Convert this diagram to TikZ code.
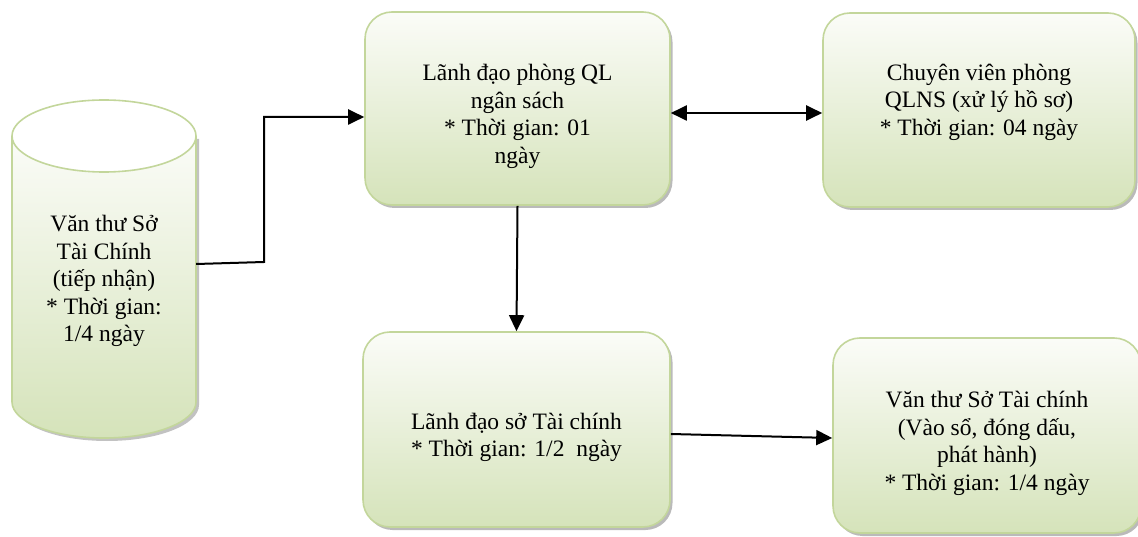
\documentclass[tikz,border=0pt]{standalone}
\usepackage{fontspec}
\setmainfont{Liberation Serif}
\usetikzlibrary{arrows.meta,shadows,calc}
\definecolor{edgegreen}{HTML}{C3D69B}
\definecolor{topfill}{HTML}{FBFCF8}
\definecolor{botfill}{HTML}{D5E3BA}
\begin{document}
\begin{tikzpicture}[x=1pt,y=1pt,
  txt/.style={font=\fontsize{23.5}{27.5}\selectfont, align=center},
  procbox/.style={draw=edgegreen, line width=1.6pt, rounded corners=27pt,
    top color=topfill, bottom color=botfill, inner sep=0pt,
    drop shadow={shadow xshift=2.5pt, shadow yshift=-3pt, fill=black!45, opacity=0.6}},
  boxtext/.style 2 args={label={[txt, yshift=#1]center:{#2}}},
  tip/.style={Triangle[length=16pt,width=15pt]},
  flow/.style={line width=2pt, -{Triangle[length=16pt,width=15pt]}},
  bothflow/.style={line width=2pt, {Triangle[length=16pt,width=15pt]}-{Triangle[length=16pt,width=15pt]}}]
\useasboundingbox (0,0) rectangle (1138,536);

% storage cylinder on the left
\fill[black!40, opacity=0.6] (15,397) -- (15,131) arc (180:360:92 and 36) -- (199,397) -- cycle;
\shade[top color=topfill, bottom color=botfill] (12,400) -- (12,134) arc (180:360:92 and 36) -- (196,400) -- cycle;
\draw[edgegreen, line width=1.6pt] (12,400) -- (12,134) arc (180:360:92 and 36) -- (196,400);
\draw[edgegreen, line width=1.6pt, fill=white] (104,400) ellipse (92 and 36);
\node[txt, minimum width=184pt] (cyl) at (104,255)
  {Văn thư Sở\\Tài Chính\\(tiếp nhận)\\* Thời gian:\\1/4 ngày};

% process boxes
\node[procbox, minimum width=305pt, minimum height=193pt,
  boxtext={-8pt}{Lãnh đạo phòng QL\\ngân sách\\* Thời gian: 01\\ngày}] (lead) at (517.5,427.5) {};
\node[procbox, minimum width=312pt, minimum height=194pt,
  boxtext={8pt}{Chuyên viên phòng\\QLNS (xử lý hồ sơ)\\* Thời gian: 04 ngày}] (staff) at (979,426) {};
\node[procbox, minimum width=307pt, minimum height=195pt,
  boxtext={-8pt}{Lãnh đạo sở Tài chính\\* Thời gian: 1/2~ ngày}] (dept) at (516.5,106.5) {};
\node[procbox, minimum width=308pt, minimum height=195pt,
  boxtext={-8pt}{Văn thư Sở Tài chính\\(Vào sổ, đóng dấu,\\phát hành)\\* Thời gian: 1/4 ngày}] (clerk) at (987,100.5) {};

% connectors
\coordinate (bend) at (264,274);
\draw[flow] ($(cyl.east)+(0,17)$) -- (bend) |- ($(lead.west)+(0,-8.5)$);
\draw[bothflow] ($(lead.east)+(0,-4.5)$) -- ($(staff.west)+(0,-3)$);
\draw[flow] (lead.south) -- (dept.north);
\draw[flow] ($(dept.east)+(0,-4.5)$) -- ($(clerk.west)+(0,-2.5)$);
\end{tikzpicture}
\end{document}
